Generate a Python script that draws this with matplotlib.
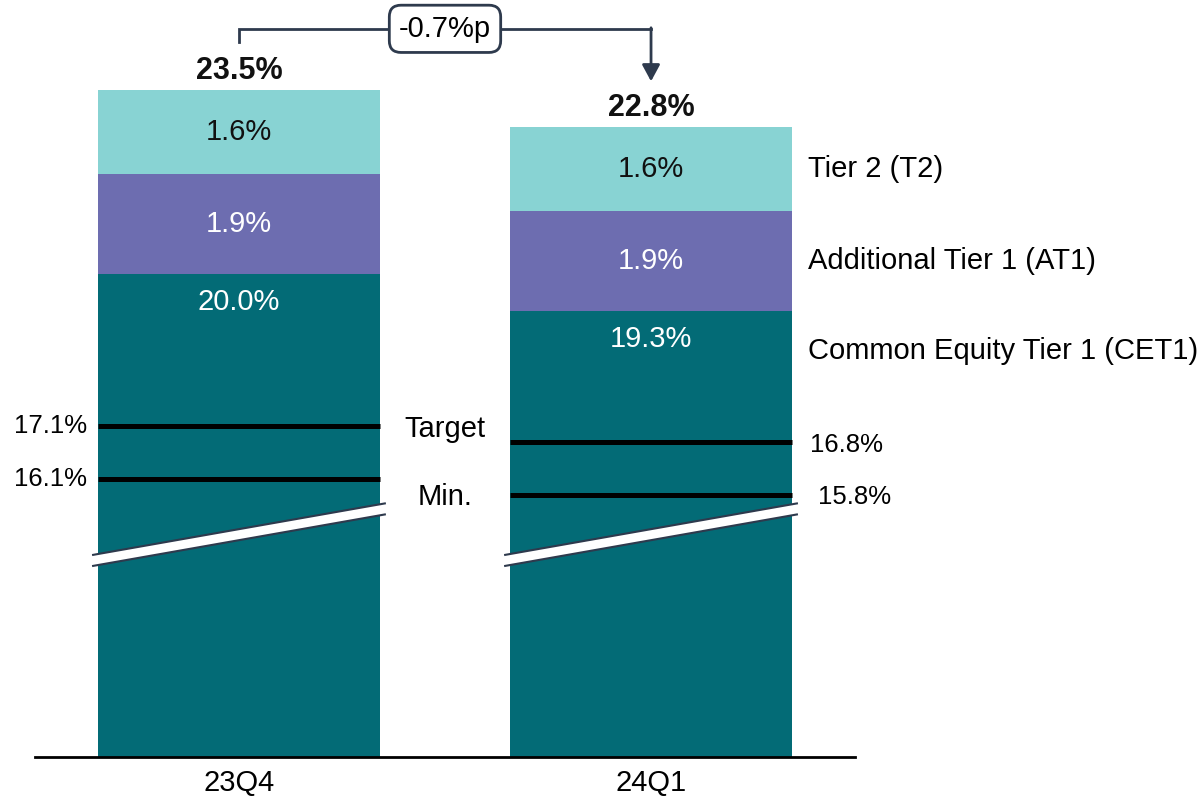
import numpy as np
import matplotlib
matplotlib.use('Agg')
import matplotlib.pyplot as plt
from matplotlib.patches import Polygon

plt.rcParams['font.family'] = ['Liberation Sans', 'DejaVu Sans']

# data
quarters = ['23Q4', '24Q1']
cet1 = [20.0, 19.3]
at1 = [1.9, 1.9]
t2 = [1.6, 1.6]
totals = [23.5, 22.8]
target = [17.1, 16.8]
minimum = [16.1, 15.8]
series_names = ['Tier 2 (T2)', 'Additional Tier 1 (AT1)', 'Common Equity Tier 1 (CET1)']
change_label = '-0.7%p'

C_CET1 = '#036b76'
C_AT1 = '#6d6db0'
C_T2 = '#88d3d3'
C_DARK = '#2e3a4d'
FS = 21

fig = plt.figure(figsize=(12.04, 8.01), dpi=100)
ax = fig.add_axes([35 / 1204, 1 - 757 / 801, 820 / 1204, 757 / 801])

x = np.arange(len(quarters))
w = 0.684
cet1 = np.array(cet1)
at1 = np.array(at1)
t2 = np.array(t2)

ax.bar(x, cet1, width=w, color=C_CET1)
ax.bar(x, at1, width=w, bottom=cet1, color=C_AT1)
ax.bar(x, t2, width=w, bottom=cet1 + at1, color=C_T2)

ax.set_xlim(-0.495, 1.495)
ax.set_ylim(10.8, 10.8 + 757 / 52.5)

# segment labels
for i in range(len(x)):
    ax.text(x[i], cet1[i] + at1[i] + t2[i] / 2, '%.1f%%' % t2[i], ha='center', va='center',
            fontsize=FS, color='#111111')
    ax.text(x[i], cet1[i] + at1[i] / 2, '%.1f%%' % at1[i], ha='center', va='center',
            fontsize=FS, color='white')
    ax.annotate('%.1f%%' % cet1[i], (x[i], cet1[i]), xytext=(0, -20), textcoords='offset points',
                ha='center', va='center', fontsize=FS, color='white')
    ax.annotate('%.1f%%' % totals[i], (x[i], totals[i]), xytext=(0, 14), textcoords='offset points',
                ha='center', va='center', fontsize=22, fontweight='bold', color='#111111')
    # target / min lines
    for v in (target[i], minimum[i]):
        ax.plot([x[i] - w / 2, x[i] + w / 2], [v, v], color='black', lw=3.6, solid_capstyle='butt')
    # axis break
    x0, x1 = x[i] - w / 2 - 0.012, x[i] + w / 2 + 0.012
    up = (14.65, 15.63)
    lo = (14.44, 15.42)
    ax.add_patch(Polygon([(x0, up[0]), (x1, up[1]), (x1, lo[1]), (x0, lo[0])],
                         closed=True, facecolor='white', edgecolor='none', zorder=3, clip_on=False))
    ax.plot([x0, x1], up, color=C_DARK, lw=1.5, zorder=4, clip_on=False)
    ax.plot([x0, x1], lo, color=C_DARK, lw=1.5, zorder=4, clip_on=False)

# requirement labels
ax.annotate('%.1f%%' % target[0], (x[0] - w / 2, target[0]), xytext=(-8, 0), textcoords='offset points',
            ha='right', va='center', fontsize=18.5)
ax.annotate('%.1f%%' % minimum[0], (x[0] - w / 2, minimum[0]), xytext=(-8, 0), textcoords='offset points',
            ha='right', va='center', fontsize=18.5)
ax.annotate('%.1f%%' % target[1], (x[1] + w / 2, target[1]), xytext=(13, -2), textcoords='offset points',
            ha='left', va='center', fontsize=18.5)
ax.annotate('%.1f%%' % minimum[1], (x[1] + w / 2, minimum[1]), xytext=(19, -2), textcoords='offset points',
            ha='left', va='center', fontsize=18.5)
ax.text(0.5, 17.05, 'Target', ha='center', va='center', fontsize=FS)
ax.text(0.5, 15.75, 'Min.', ha='center', va='center', fontsize=FS)

# series names beside last bar
xl = x[-1] + w / 2 + 0.04
ax.text(xl, cet1[-1] + at1[-1] + t2[-1] / 2, series_names[0], ha='left', va='center', fontsize=FS)
ax.text(xl, cet1[-1] + at1[-1] / 2, series_names[1], ha='left', va='center', fontsize=FS)
ax.annotate(series_names[2], (xl, cet1[-1]), xytext=(0, -29), textcoords='offset points',
            ha='left', va='center', fontsize=FS)

# change bracket
yb = 24.67
ax.plot([x[0], x[0], x[1]], [24.42, yb, yb], color=C_DARK, lw=2.0, clip_on=False,
        solid_joinstyle='miter')
ax.annotate('', xy=(x[1], 23.67), xytext=(x[1], yb + 0.02),
            arrowprops=dict(arrowstyle='-|>,head_width=0.27,head_length=0.5', color=C_DARK,
                            lw=2.0, mutation_scale=20, shrinkA=0, shrinkB=0),
            annotation_clip=False)
ax.text((x[0] + x[1]) / 2, yb, change_label, ha='center', va='center', fontsize=FS,
        bbox=dict(boxstyle='round,pad=0.33,rounding_size=0.4', facecolor='white',
                  edgecolor=C_DARK, lw=2))

# axes styling
for s in ['left', 'right', 'top']:
    ax.spines[s].set_visible(False)
ax.spines['bottom'].set_linewidth(2)
ax.set_yticks([])
ax.set_xticks(x)
ax.set_xticklabels(quarters, fontsize=FS)
ax.tick_params(axis='x', length=0, pad=9)

fig.savefig('out.png', dpi=100)
